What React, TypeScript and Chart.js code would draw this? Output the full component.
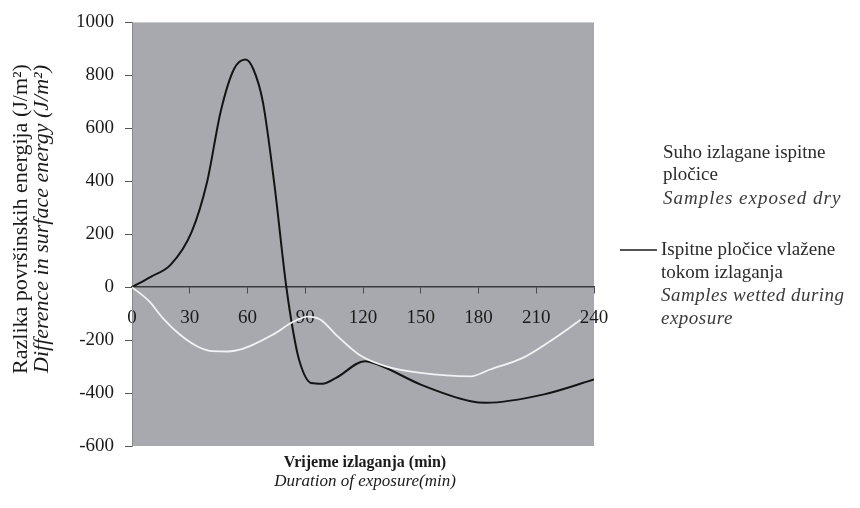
import React, { useEffect, useRef } from "react";
import { Chart, registerables } from "chart.js";

Chart.register(...registerables);

// Duration of exposure (min) and difference in surface energy (J/m²)
const wettedTime = [0, 10, 20, 31, 39, 46, 53, 59, 63, 68, 74, 80, 84, 87, 93, 99, 106, 121, 128, 150, 176, 184, 214, 240];
const wettedValue = [0, 40, 84, 209, 397, 661, 824, 860, 824, 699, 386, 10, -179, -280, -362, -365, -343, -280, -293, -368, -431, -437, -405, -349];

const dryTime = [0, 9, 16, 25, 34, 42, 50, 56, 63, 73, 84, 91, 98, 106, 118, 132, 150, 176, 186, 203, 217, 227, 233];
const dryValue = [0, -54, -117, -180, -224, -242, -243, -236, -217, -180, -130, -111, -123, -180, -255, -299, -324, -337, -311, -267, -205, -155, -123];

const xTicks = [0, 30, 60, 90, 120, 150, 180, 210, 240];
const yTicks = [-600, -400, -200, 0, 200, 400, 600, 800, 1000];

const yTitle = ["Razlika površinskih energija (J/m²)", "Difference in surface energy (J/m²)"];
const xTitle = ["Vrijeme izlaganja (min)", "Duration of exposure(min)"];
const legendDry = ["Suho izlagane ispitne", "pločice", "Samples exposed dry"];
const legendWet = ["Ispitne pločice vlažene", "tokom izlaganja", "Samples wetted during", "exposure"];

const SERIF = "'Liberation Serif', 'DejaVu Serif', serif";

const decorPlugin = {
  id: "decor",
  beforeDraw(chart: any) {
    const { ctx, chartArea } = chart;
    ctx.save();
    ctx.fillStyle = "#a8a9ae";
    ctx.fillRect(chartArea.left, chartArea.top, chartArea.right - chartArea.left, chartArea.bottom - chartArea.top);
    ctx.restore();
  },
  afterDraw(chart: any) {
    const { ctx, chartArea } = chart;
    ctx.save();
    // y title
    ctx.translate(21, 219);
    ctx.rotate(-Math.PI / 2);
    ctx.textAlign = "center";
    ctx.textBaseline = "middle";
    ctx.fillStyle = "#1a1a1a";
    ctx.font = `22px ${SERIF}`;
    ctx.fillText(yTitle[0], 0, 0);
    ctx.font = `italic 22px ${SERIF}`;
    ctx.fillText(yTitle[1], 0, 21);
    ctx.restore();

    ctx.save();
    const cx = (chartArea.left + chartArea.right) / 2 + 2;
    ctx.textAlign = "center";
    ctx.textBaseline = "middle";
    ctx.fillStyle = "#1a1a1a";
    ctx.font = `bold 16px ${SERIF}`;
    ctx.fillText(xTitle[0], cx, 463);
    ctx.font = `italic 17px ${SERIF}`;
    ctx.fillText(xTitle[1], cx, 482);

    // legend
    ctx.textAlign = "left";
    ctx.fillStyle = "#2a2a2a";
    ctx.font = `19px ${SERIF}`;
    ctx.fillText(legendDry[0], 663, 153);
    ctx.fillText(legendDry[1], 663, 175);
    ctx.fillStyle = "#3a3a3a";
    ctx.font = `italic 19px ${SERIF}`;
    (ctx as any).letterSpacing = "1px";
    ctx.fillText(legendDry[2], 663, 199);
    (ctx as any).letterSpacing = "0px";

    ctx.strokeStyle = "#1a1a1a";
    ctx.lineWidth = 1.3;
    ctx.beginPath();
    ctx.moveTo(620, 250);
    ctx.lineTo(657, 250);
    ctx.stroke();
    ctx.fillStyle = "#2a2a2a";
    ctx.font = `19px ${SERIF}`;
    ctx.fillText(legendWet[0], 661, 250);
    ctx.fillText(legendWet[1], 661, 273);
    ctx.fillStyle = "#3a3a3a";
    ctx.font = `italic 19px ${SERIF}`;
    (ctx as any).letterSpacing = "0.5px";
    ctx.fillText(legendWet[2], 661, 296);
    ctx.fillText(legendWet[3], 661, 319);
    (ctx as any).letterSpacing = "0px";
    ctx.restore();
  },
};

export default function App() {
  const ref = useRef<HTMLCanvasElement | null>(null);
  useEffect(() => {
    document.body.style.margin = "0";
    const canvas = ref.current;
    if (!canvas) return;
    const chart = new Chart(canvas, {
      type: "line",
      data: {
        datasets: [
          {
            label: "Samples exposed dry",
            data: dryTime.map((t, i) => ({ x: t, y: dryValue[i] })),
            borderColor: "#f2f2f2",
            borderWidth: 1.8,
            pointRadius: 0,
            tension: 0.4,
            cubicInterpolationMode: "monotone",
          },
          {
            label: "Samples wetted during exposure",
            data: wettedTime.map((t, i) => ({ x: t, y: wettedValue[i] })),
            borderColor: "#141414",
            borderWidth: 2,
            pointRadius: 0,
            tension: 0.4,
            cubicInterpolationMode: "monotone",
          },
        ],
      },
      options: {
        responsive: false,
        animation: false,
        layout: { padding: { left: 65, right: 266, top: 18, bottom: 62 } },
        plugins: { legend: { display: false }, tooltip: { enabled: false } },
        scales: {
          x: {
            type: "linear",
            min: 0,
            max: 240,
            position: { y: 0 } as any,
            afterBuildTicks: (s: any) => {
              s.ticks = xTicks.map((v) => ({ value: v }));
            },
            ticks: {
              font: { family: SERIF, size: 19 },
              color: "#1a1a1a",
              padding: 13,
              autoSkip: false,
              maxRotation: 0,
              callback: (v: any) => String(v),
            },
            grid: { drawOnChartArea: false, tickLength: 6, color: "#4a4a4a", lineWidth: 1 },
            border: { color: "#3a3a3a", width: 1.5 },
          },
          y: {
            type: "linear",
            min: -600,
            max: 1000,
            afterBuildTicks: (s: any) => {
              s.ticks = yTicks.map((v) => ({ value: v }));
            },
            ticks: {
              font: { family: SERIF, size: 19 },
              color: "#1a1a1a",
              padding: 11,
              callback: (v: any) => String(v),
            },
            grid: { drawOnChartArea: false, tickLength: 7, color: "#555", lineWidth: 1 },
            border: { color: "#8a8a8a", width: 1 },
          },
        },
      },
      plugins: [decorPlugin],
    });
    return () => chart.destroy();
  }, []);
  return (
    <div style={{ width: 860, height: 508, background: "#fff" }}>
      <canvas ref={ref} width={860} height={508} />
    </div>
  );
}
